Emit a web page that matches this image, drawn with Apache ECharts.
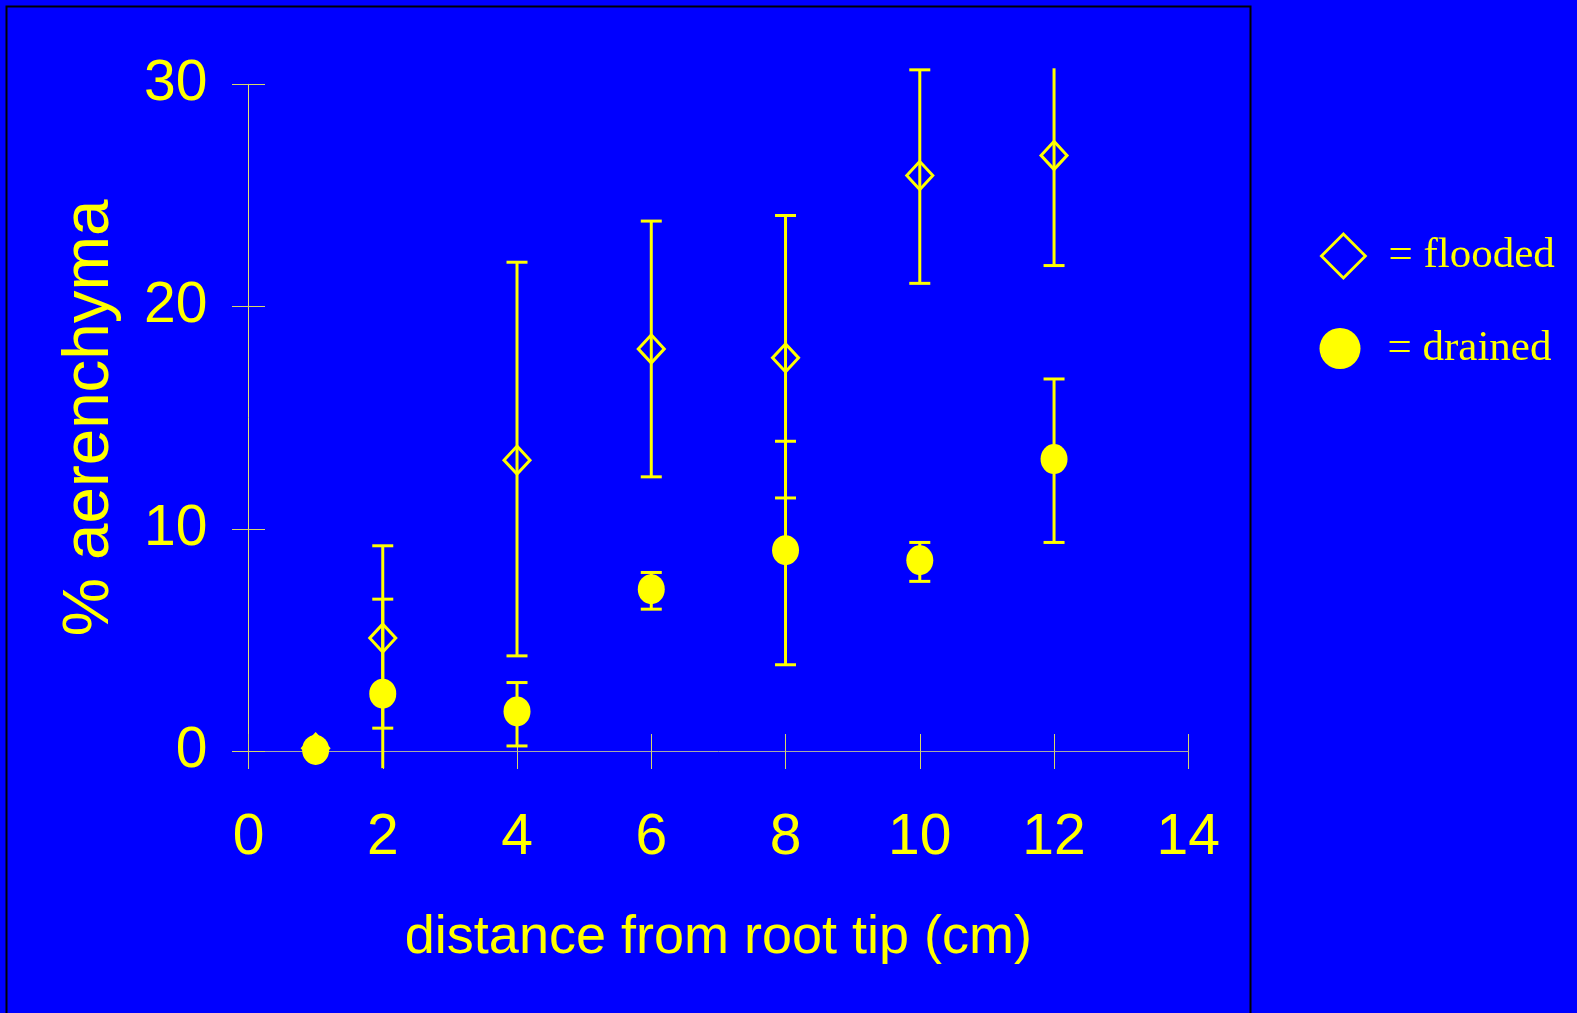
<!DOCTYPE html>
<html>
<head>
<meta charset="utf-8">
<script src="https://cdn.jsdelivr.net/npm/echarts@6/dist/echarts.min.js"></script>
<style>
html,body{margin:0;padding:0;background:#0000ff;}
#chart{width:1577px;height:1013px;}
</style>
</head>
<body>
<div id="chart"></div>
<script>
// ---- data ----
const distance = [1, 2, 4, 6, 8, 10, 12];
const floodedMean = [0.15, 5.1, 13.1, 18.1, 17.7, 25.9, 26.8];
const floodedLow  = [0.15, 1.05, 4.3, 12.35, 11.4, 21.05, 21.85];
const floodedHigh = [0.15, 9.25, 22.0, 23.85, 24.1, 30.65, 31.7];
const drainedMean = [0.07, 2.6, 1.8, 7.3, 9.05, 8.6, 13.15];
const drainedLow  = [0.07, -1.6, 0.25, 6.4, 3.9, 7.65, 9.4];
const drainedHigh = [0.07, 6.85, 3.1, 8.05, 13.95, 9.4, 16.75];
const xTicks = [0, 2, 4, 6, 8, 10, 12, 14];
const yTicks = [0, 10, 20, 30];
const xTitle = 'distance from root tip (cm)';
const yTitle = '% aerenchyma';
const seriesNames = ['flooded', 'drained'];
// visible plotting window of the original (error bars are cut here)
const Y_VIEW_MIN = -0.75, Y_VIEW_MAX = 30.72;

const YELLOW = '#ffff00';
const AXIS_FONT = 'Liberation Sans, Arial, sans-serif';

function errRender(params, api) {
  const x = api.value(0), lo = api.value(1), hi = api.value(2);
  if (lo === hi) return null;
  const loC = Math.max(lo, Y_VIEW_MIN), hiC = Math.min(hi, Y_VIEW_MAX);
  const pTop = api.coord([x, hiC]);
  const pBot = api.coord([x, loC]);
  const half = 10.5;
  const style = {stroke: YELLOW, lineWidth: 3};
  const children = [{type: 'line', shape: {x1: pTop[0], y1: pTop[1], x2: pBot[0], y2: pBot[1]}, style}];
  if (hi <= Y_VIEW_MAX) children.push({type: 'line', shape: {x1: pTop[0] - half, y1: pTop[1], x2: pTop[0] + half, y2: pTop[1]}, style});
  if (lo >= Y_VIEW_MIN) children.push({type: 'line', shape: {x1: pBot[0] - half, y1: pBot[1], x2: pBot[0] + half, y2: pBot[1]}, style});
  return {type: 'group', children};
}

const floodedErr = distance.map((d, i) => [d, floodedLow[i], floodedHigh[i]]);
const drainedErr = distance.map((d, i) => [d, drainedLow[i], drainedHigh[i]]);
const floodedPts = distance.map((d, i) => [d, floodedMean[i]]);
const drainedPts = distance.map((d, i) => [d, drainedMean[i]]);

const grid = {left: 248.5, right: 388.7, top: 84.3, bottom: 261.5};
const tickColor = '#d6d66a';

const chart = echarts.init(document.getElementById('chart'), null, {renderer: 'canvas'});
chart.setOption({
  backgroundColor: '#0000ff',
  animation: false,
  grid: grid,
  graphic: [{
    type: 'rect', z: -10, silent: true,
    shape: {x: 6.5, y: 6.5, width: 1244, height: 1030},
    style: {fill: 'none', stroke: '#000000', lineWidth: 2}
  }],
  xAxis: [{
    type: 'value', min: 0, max: 14, interval: 2,
    axisLine: {show: true, onZero: false, lineStyle: {color: '#a8a8a8', width: 1}},
    axisTick: {show: true, inside: false, length: 17.5, lineStyle: {color: tickColor, width: 1}},
    splitLine: {show: false},
    axisLabel: {color: YELLOW, fontFamily: AXIS_FONT, fontSize: 57, margin: 58,
      formatter: v => xTicks.includes(v) ? String(v) : ''},
    name: xTitle, nameLocation: 'middle', nameGap: 160,
    nameTextStyle: {color: YELLOW, fontFamily: AXIS_FONT, fontSize: 54}
  }, {
    type: 'value', min: 0, max: 14, interval: 2, gridIndex: 0, position: 'bottom',
    axisLine: {show: false},
    axisTick: {show: true, inside: true, length: 17.5, lineStyle: {color: tickColor, width: 1}},
    splitLine: {show: false}, axisLabel: {show: false}
  }],
  yAxis: [{
    type: 'value', min: 0, max: 30, interval: 10,
    axisLine: {show: true, onZero: false, lineStyle: {color: '#e6e672', width: 1}},
    axisTick: {show: true, inside: false, length: 16.5, lineStyle: {color: tickColor, width: 1}},
    splitLine: {show: false},
    axisLabel: {color: YELLOW, fontFamily: AXIS_FONT, fontSize: 57, margin: 41, padding: [5, 0, 0, 0],
      formatter: v => yTicks.includes(v) ? String(v) : ''},
    name: yTitle, nameLocation: 'middle', nameGap: 126, nameRotate: 90,
    nameTextStyle: {color: YELLOW, fontFamily: AXIS_FONT, fontSize: 65.5}
  }, {
    type: 'value', min: 0, max: 30, interval: 10, gridIndex: 0, position: 'left',
    axisLine: {show: false},
    axisTick: {show: true, inside: true, length: 16.5, lineStyle: {color: tickColor, width: 1}},
    splitLine: {show: false}, axisLabel: {show: false}
  }],
  legend: [{
    data: [{name: seriesNames[0], icon: 'diamond'}],
    left: 1320, top: 232.5, padding: 0, itemWidth: 44, itemHeight: 44,
    selectedMode: false, formatter: '= {name}',
    itemStyle: {color: 'rgba(0,0,0,0)', borderColor: YELLOW, borderWidth: 2.8},
    textStyle: {color: YELLOW, fontFamily: 'Liberation Serif, Times New Roman, serif', fontSize: 43, padding: [4, 0, 0, 18]}
  }, {
    data: [{name: seriesNames[1], icon: 'circle'}],
    left: 1319.5, top: 327, padding: 0, itemWidth: 41, itemHeight: 41,
    selectedMode: false, formatter: '= {name}',
    itemStyle: {color: YELLOW},
    textStyle: {color: YELLOW, fontFamily: 'Liberation Serif, Times New Roman, serif', fontSize: 43, padding: [4, 0, 0, 22]}
  }],
  series: [{
    name: 'flooded-err', type: 'custom', renderItem: errRender, data: floodedErr,
    clip: false, z: 2, encode: {x: 0, y: [1, 2]}
  }, {
    name: seriesNames[0], type: 'scatter', data: floodedPts, clip: false, z: 3,
    symbol: 'diamond', symbolSize: [26, 28],
    itemStyle: {color: 'rgba(0,0,0,0)', borderColor: YELLOW, borderWidth: 3, opacity: 1}
  }, {
    name: 'drained-err', type: 'custom', renderItem: errRender, data: drainedErr,
    clip: false, z: 4, encode: {x: 0, y: [1, 2]}
  }, {
    name: seriesNames[1], type: 'scatter', data: drainedPts, clip: false, z: 5,
    symbol: 'circle', symbolSize: [27, 30],
    itemStyle: {color: YELLOW, opacity: 1}
  }]
});
</script>
</body>
</html>
